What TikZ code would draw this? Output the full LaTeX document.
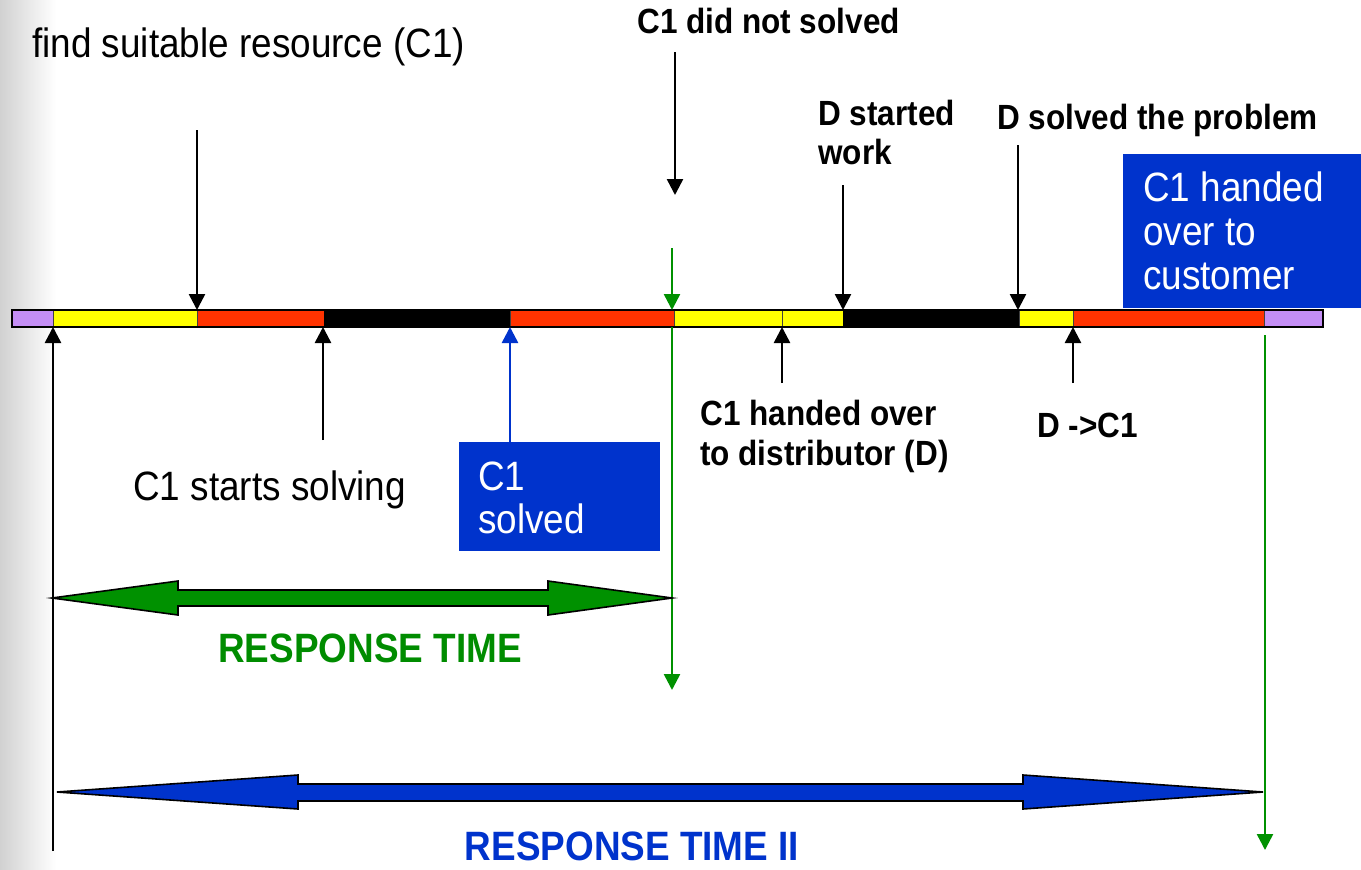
\documentclass[tikz,border=0pt]{standalone}
\usepackage{fontspec}
\setmainfont{Liberation Sans}[FakeStretch=0.9]
\usetikzlibrary{arrows.meta}
\definecolor{bargreen}{RGB}{0,145,0}
\definecolor{textgreen}{RGB}{0,140,0}
\definecolor{boxblue}{RGB}{0,51,204}
\definecolor{barpurple}{RGB}{196,142,245}
\definecolor{barred}{RGB}{255,51,0}
\definecolor{baryellow}{RGB}{255,255,0}
\begin{document}
\begin{tikzpicture}[x=0.75pt,y=-0.75pt,
  lbl/.style={inner sep=0pt, anchor=base west, font=\fontsize{30.75pt}{36pt}\selectfont},
  blbl/.style={inner sep=0pt, anchor=base west, font=\fontsize{26.25pt}{30pt}\selectfont\bfseries},
  wlbl/.style={lbl, text=white},
  biglbl/.style={inner sep=0pt, anchor=base, font=\fontsize{30.75pt}{36pt}\selectfont\bfseries},
  arr/.style={line width=1.9pt, -{Triangle[length=12pt,width=12pt]}},
  garr/.style={arr, draw=bargreen, fill=bargreen},
  barr/.style={arr, draw=boxblue, fill=boxblue},
  seg/.style={draw=black!75, line width=0.75pt},
  bluebox/.style={fill=boxblue, inner sep=0pt, anchor=north west},
  bigarrow/.style={draw=black, line width=1.2pt, line join=miter}
]
\useasboundingbox (0,0) rectangle (1361,869);
% left shading
\shade[left color=black!18, right color=white] (0,0) rectangle (56,869);

% ---- bar ----
\fill[barpurple] (12,310) rectangle (53,327);
\fill[baryellow] (53,310) rectangle (197,327);
\fill[barred] (197,310) rectangle (324,327);
\fill[black] (324,310) rectangle (510,327);
\fill[barred] (510,310) rectangle (674,327);
\fill[baryellow] (674,310) rectangle (843,327);
\fill[black] (843,310) rectangle (1019,327);
\fill[baryellow] (1019,310) rectangle (1073,327);
\fill[barred] (1073,310) rectangle (1264,327);
\fill[barpurple] (1264,310) rectangle (1323,327);
\foreach \xx in {53,197,510,674,782,1019,1073,1264}
  \draw[seg] (\xx,310) -- (\xx,327);
\draw[line width=1.8pt] (12,310) rectangle (1323,327);

% ---- blue boxes ----
\node[bluebox, minimum width=178.5pt, minimum height=115.5pt] (custbox) at (1123,154) {};
\node[bluebox, minimum width=150.75pt, minimum height=81.75pt] (solvedbox) at (459,442) {};

% ---- texts ----
\node[lbl] (find) at (32,57) {find suitable resource (C1)};
\node[blbl] (notsolved) at (637,33) {C1 did not solved};
\node[blbl] (dstart1) at (818,125) {D started};
\node[blbl] (dstart2) at (818,164) {work};
\node[blbl] (dsolved) at (997,129) {D solved the problem};
\node[wlbl] (cust1) at (1143,201) {C1 handed};
\node[wlbl] (cust2) at (1143,245) {over to};
\node[wlbl] (cust3) at (1143,289) {customer};
\node[lbl] (starts) at (133,500) {C1 starts solving};
\node[wlbl] (solved1) at (478,490) {C1};
\node[wlbl] (solved2) at (478,533) {solved};
\node[blbl] (handed1) at (700,425) {C1 handed over};
\node[blbl] (handed2) at (700,465) {to distributor (D)};
\node[blbl] (dc1) at (1037,437) {D ->C1};
\node[biglbl, text=textgreen] (rt) at (370,662) {RESPONSE TIME};
\node[biglbl, text=boxblue] (rt2) at (632,860) {RESPONSE TIME II};

% ---- arrow end points ----
\coordinate (f0) at (197,130);  \coordinate (f1) at (197,310);
\coordinate (n0) at (675,52);   \coordinate (n1) at (675,195);
\coordinate (g0) at (672,248);  \coordinate (g1) at (672,310);
\coordinate (g2) at (672,327);  \coordinate (g3) at (672,690);
\coordinate (ds0) at (843,185); \coordinate (ds1) at (843,310);
\coordinate (dv0) at (1018,145);\coordinate (dv1) at (1018,310);
\coordinate (u0) at (53,851);   \coordinate (u1) at (53,327);
\coordinate (s0) at (323,440);  \coordinate (s1) at (323,327);
\coordinate (b0) at (510,442);  \coordinate (b1) at (510,327);
\coordinate (h0) at (782,383);  \coordinate (h1) at (782,327);
\coordinate (c0) at (1073,383); \coordinate (c1) at (1073,327);
\coordinate (e0) at (1265,335); \coordinate (e1) at (1265,850);

\draw[arr] (f0) -- (f1);
\draw[arr] (n0) -- (n1);
\draw[garr] (g0) -- (g1);
\draw[garr] (g2) -- (g3);
\draw[arr] (ds0) -- (ds1);
\draw[arr] (dv0) -- (dv1);
\draw[arr] (u0) -- (u1);
\draw[arr] (s0) -- (s1);
\draw[barr] (b0) -- (b1);
\draw[arr] (h0) -- (h1);
\draw[arr] (c0) -- (c1);
\draw[garr] (e0) -- (e1);

% ---- big double arrows ----
\draw[bigarrow, fill=bargreen] (52,598) -- (178,581) -- (178,590) -- (548,590) -- (548,581)
  -- (672,598) -- (548,615) -- (548,606) -- (178,606) -- (178,615) -- cycle;
\draw[bigarrow, fill=boxblue] (57,792) -- (298,775) -- (298,784) -- (1023,784) -- (1023,775)
  -- (1263,792) -- (1023,809) -- (1023,801) -- (298,801) -- (298,809) -- cycle;
\end{tikzpicture}
\end{document}
